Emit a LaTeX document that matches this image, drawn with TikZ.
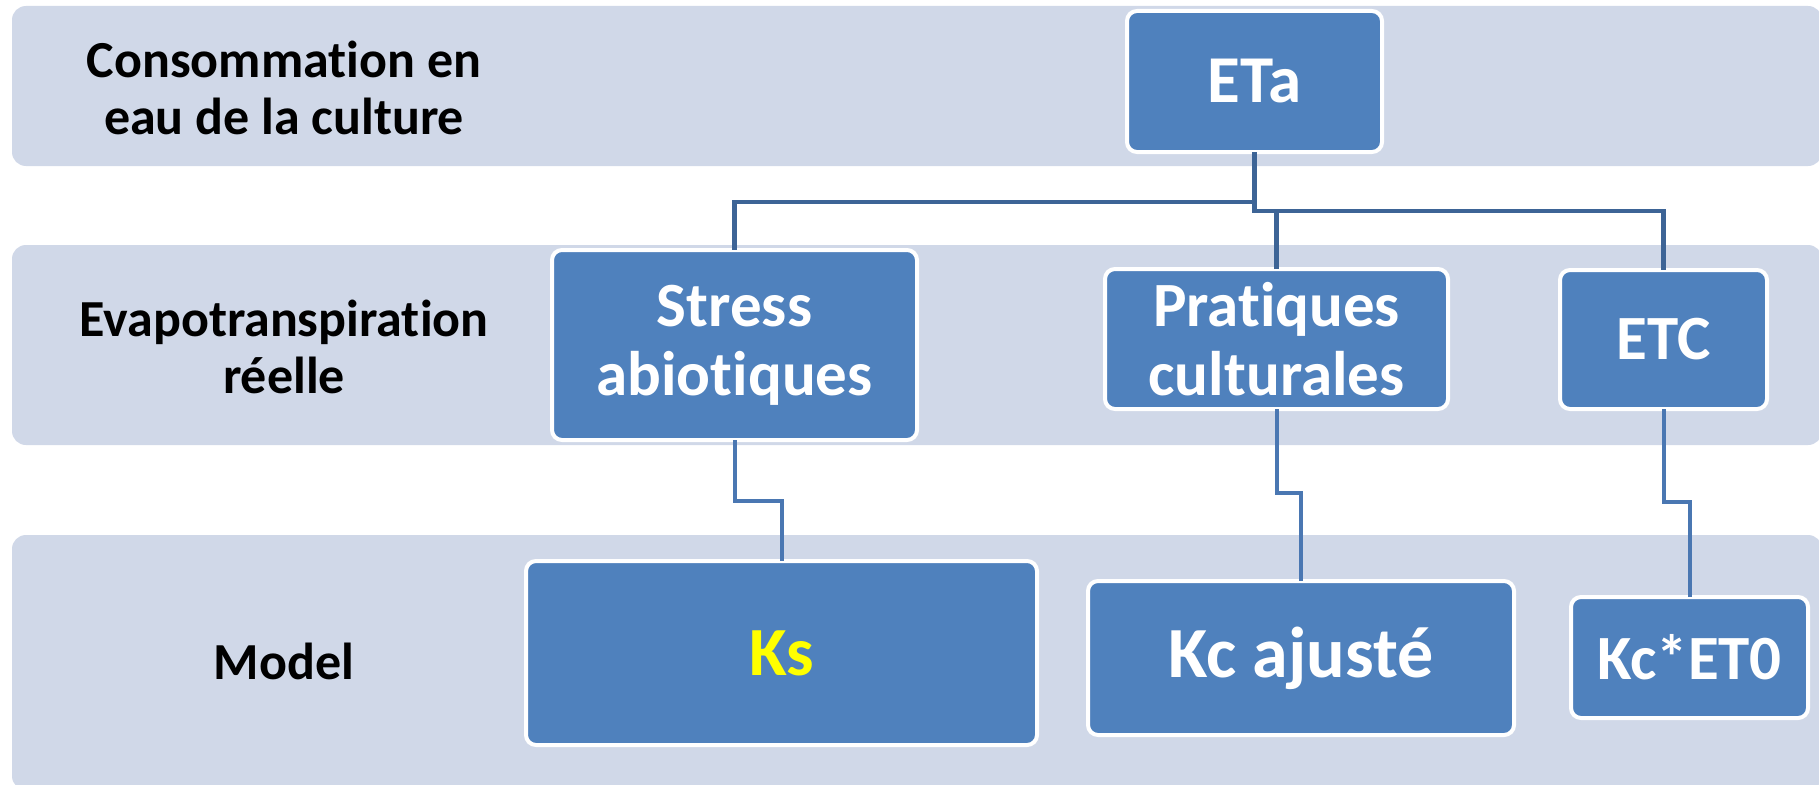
\documentclass[tikz,border=0pt]{standalone}
\usepackage{fontspec}
\setmainfont{Carlito}[Ligatures=NoCommon]
\definecolor{bandc}{HTML}{D0D8E8}
\definecolor{boxc}{HTML}{4F81BD}
\definecolor{conntop}{HTML}{3D6496}
\definecolor{connbot}{HTML}{4A77B2}
\definecolor{ksyellow}{HTML}{FFFF00}
\tikzset{
  band/.style={fill=bandc, draw=none, rounded corners=14pt},
  blk/.style={draw=white, line width=4pt, fill=boxc, rounded corners=10pt, text=white,
     font=\bfseries\fontsize{63}{69}\selectfont, align=center, inner sep=0pt, outer sep=0pt},
  lbl/.style={text=black, font=\bfseries\fontsize{52}{57}\selectfont, align=center, inner sep=0pt},
  conna/.style={draw=conntop, line width=4.5pt},
  connb/.style={draw=connbot, line width=4pt},
}
\begin{document}
\begin{tikzpicture}[x=1pt,y=-1pt]
\useasboundingbox (0,0) rectangle (1819,784);
\fill[white] (0,0) rectangle (1819,784);
% bands
\path[band] (12,6) rectangle (1822,166);
\path[band] (12,245) rectangle (1822,445);
\path[band] (12,535) rectangle (1822,790);
% labels
\node[lbl] (l1) at (284,88) {Consommation en\\eau de la culture};
\node[lbl] (l2) at (284,347) {Evapotranspiration\\réelle};
\node[lbl] (l3) at (284,661) {Model};
% boxes
\node[blk, minimum width=255pt, minimum height=141pt, font=\bfseries\fontsize{67}{73}\selectfont] (eta) at (1254.5,81.5) {ETa};
\node[blk, minimum width=365pt, minimum height=190pt] (stress) at (734.5,345) {Stress\\abiotiques};
\node[blk, minimum width=343pt, minimum height=140pt] (prat) at (1276.5,339) {Pratiques\\culturales};
\node[blk, minimum width=207pt, minimum height=139pt] (etc) at (1663.5,339.5) {ETC};
\node[blk, minimum width=511pt, minimum height=184pt, text=ksyellow, font=\bfseries\fontsize{69}{75}\selectfont] (ks) at (781.5,653) {Ks};
\node[blk, minimum width=426pt, minimum height=154pt, font=\bfseries\fontsize{72}{78}\selectfont] (kc) at (1301,658) {Kc ajusté};
\node[blk, minimum width=237pt, minimum height=121pt] (kce) at (1689.5,657.5) {Kc*ET0};
% junctions
\coordinate (j1) at (1254.5,202);
\coordinate (j2) at (1254.5,211);
\coordinate (s1) at (734.5,501);
\coordinate (p1) at (1276.5,493);
\coordinate (e1) at (1663.5,502);
% connectors
\draw[conna] (eta.south) -- (j2) -| (etc.north);
\draw[conna] (j1) -| (stress.north);
\draw[conna] (prat.north) -- (prat.north |- j2);
\draw[connb] (stress.south) -- (s1) -| (ks.north);
\draw[connb] (prat.south) -- (p1) -| (kc.north);
\draw[connb] (etc.south) -- (e1) -| (kce.north);
\end{tikzpicture}
\end{document}
